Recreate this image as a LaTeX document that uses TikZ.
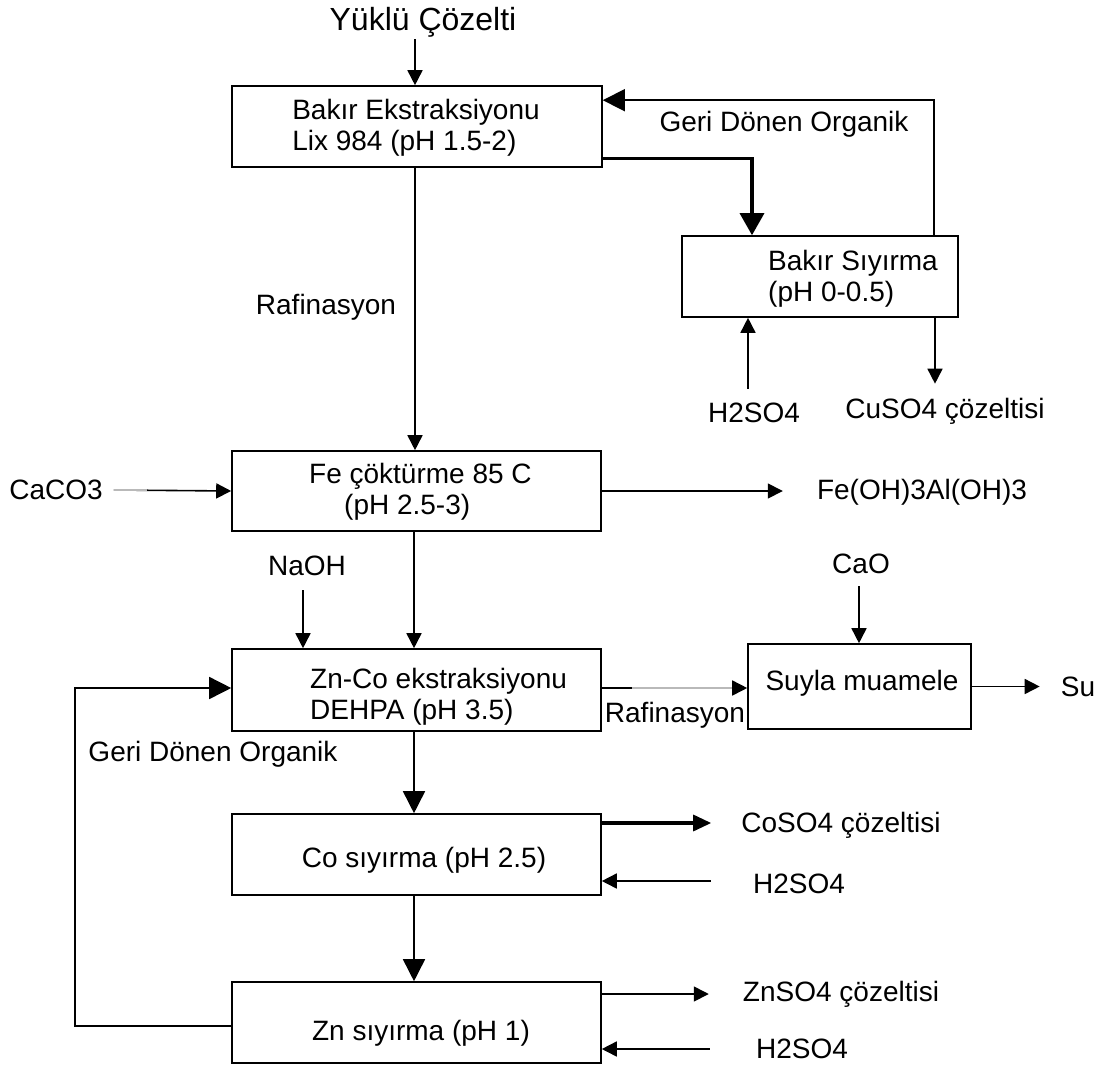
\documentclass[tikz,border=0pt]{standalone}
\usepackage{fontspec}
\setmainfont{Liberation Sans}
\usetikzlibrary{arrows.meta,calc}
\newcommand\lblfont{\fontsize{28}{31}\selectfont}
\newcommand\titlefont{\fontsize{32}{36}\selectfont}
\tikzset{
  box/.style={draw, rectangle, line width=1.6pt, inner sep=0pt},
  lbl/.style={inner sep=2pt, font=\lblfont},
  arr/.style={line width=1.6pt, -{Triangle[length=15pt,width=15pt]}},
  bigarr/.style={line width=1.6pt, -{Triangle[length=22pt,width=22pt]}},
  thkarr/.style={line width=3.2pt, -{Triangle[length=18pt,width=16pt]}},
  thkbig/.style={line width=3.2pt, -{Triangle[length=22pt,width=24pt]}},
  fade/.style={line width=1.6pt, gray!55}
}
\begin{document}
\begin{tikzpicture}[x=1pt,y=-1pt]
\path[fill=white,use as bounding box] (0,0) rectangle (1109,1066);

% process boxes
\node[box, minimum width=370pt, minimum height=81pt] (cuext) at (417,126.5) {};
\node[box, minimum width=276pt, minimum height=81pt] (cusy)  at (820,276.5) {};
\node[box, minimum width=369pt, minimum height=80pt] (fe)    at (416.5,491) {};
\node[box, minimum width=369pt, minimum height=82pt] (zc)    at (416.5,690) {};
\node[box, minimum width=223pt, minimum height=85pt] (suy)   at (859.5,686.5) {};
\node[box, minimum width=369pt, minimum height=81pt] (co)    at (416.5,854.5) {};
\node[box, minimum width=369pt, minimum height=81pt] (zn)    at (416.5,1022.5) {};

% box texts
\node[lbl, align=left] (cuextT) at (416,128) {Bakır Ekstraksiyonu\\Lix 984 (pH 1.5-2)};
\node[lbl, align=left, anchor=west] (cusyT) at (766,279) {Bakır Sıyırma\\(pH 0-0.5)};
\node[lbl, align=left, anchor=west] (feT) at (307,492) {Fe çöktürme 85 C\\\hspace*{35pt}(pH 2.5-3)};
\node[lbl, align=left, anchor=west] (zcT) at (308,697) {Zn-Co ekstraksiyonu\\DEHPA (pH 3.5)};
\node[lbl] (suyT) at (862,683) {Suyla muamele};
\node[lbl] (coT) at (424,860) {Co sıyırma (pH 2.5)};
\node[lbl] (znT) at (421,1033) {Zn sıyırma (pH 1)};

% stream labels
\node[inner sep=2pt, font=\titlefont] (feed) at (423,22) {Yüklü Çözelti};
\node[lbl] (geri1) at (784,124) {Geri Dönen Organik};
\node[lbl] (raf1) at (326,307) {Rafinasyon};
\node[lbl] (h2a) at (754,413) {H2SO4};
\node[lbl] (cuso4) at (945,411) {CuSO4 çözeltisi};
\node[lbl] (caco3) at (56,490) {CaCO3};
\node[lbl] (feoh) at (922,492) {Fe(OH)3Al(OH)3};
\node[lbl] (naoh) at (307,566) {NaOH};
\node[lbl] (cao) at (861,564) {CaO};
\node[lbl] (raf2) at (675,715) {Rafinasyon};
\node[lbl] (su) at (1078,687) {Su};
\node[lbl] (geri2) at (213,754) {Geri Dönen Organik};
\node[lbl] (coso4) at (841,825) {CoSO4 çözeltisi};
\node[lbl] (h2b) at (799,884) {H2SO4};
\node[lbl] (znso4) at (841,994) {ZnSO4 çözeltisi};
\node[lbl] (h2c) at (802,1049) {H2SO4};

% copper circuit
\draw[arr] (feed.south -| 415,0) -- (cuext.north -| 415,0);
\draw[thkbig] ([yshift=9pt]cuext.south east) -| ([xshift=-68pt]cusy.north);
\draw[bigarr] ([xshift=114pt]cusy.north) |- ([yshift=-15pt]cuext.north east);
\draw[arr] ([yshift=12pt]h2a.north -| 748,0) -- (cusy.south -| 748,0);
\draw[arr, shorten >=12pt] ([xshift=115pt]cusy.south) -- ([xshift=115pt]cusy.south |- cuso4.north);
\draw[arr] (cuext.south -| 415,0) -- (fe.north -| 415,0);

% iron removal
\draw[arr] ($(caco3.east)+(9,0)$ |- fe.west) -- (fe.west);
\draw[fade] ($(caco3.east)+(9,0)$ |- fe.west) -- ++(33,0);
\draw[arr, shorten >=32pt] (fe.east) -- (fe.east -| feoh.west);
\draw[arr] (fe.south -| 414,0) -- (zc.north -| 414,0);
\draw[arr] ([yshift=-12pt]naoh.south -| 303,0) -- (zc.north -| 303,0);

% zinc-cobalt circuit
\draw[arr] ([yshift=2pt]zc.east) -- ([yshift=2pt]zc.east -| suy.west);
\draw[fade] ($(zc.east)+(30,-2)$) -- ++(100,0);
\draw[arr] ([yshift=-10pt]cao.south -| 859,0) -- (suy.north -| 859,0);
\draw[arr, shorten >=19pt] (suy.east) -- (suy.east -| su.west);
\draw[bigarr] (zc.south -| 414,0) -- (co.north -| 414,0);
\draw[bigarr] (co.south -| 414,0) -- (zn.north -| 414,0);
\draw[thkarr, shorten >=28pt] ([yshift=2pt]co.east |- coso4.west) -- ([yshift=2pt]coso4.west);
\draw[arr] ([xshift=-40pt,yshift=3pt]h2b.west) -- ([yshift=3pt]h2b.west -| co.east);
\draw[arr, shorten >=32pt] (zn.east |- znso4.west) -- (znso4.west);
\draw[arr] ([xshift=-44pt]h2c.west) -- (h2c.west -| zn.east);
\draw[bigarr] ([yshift=-3.5pt]zn.west) -- ++(-156,0) |- ([yshift=2pt]zc.west);
\end{tikzpicture}
\end{document}
